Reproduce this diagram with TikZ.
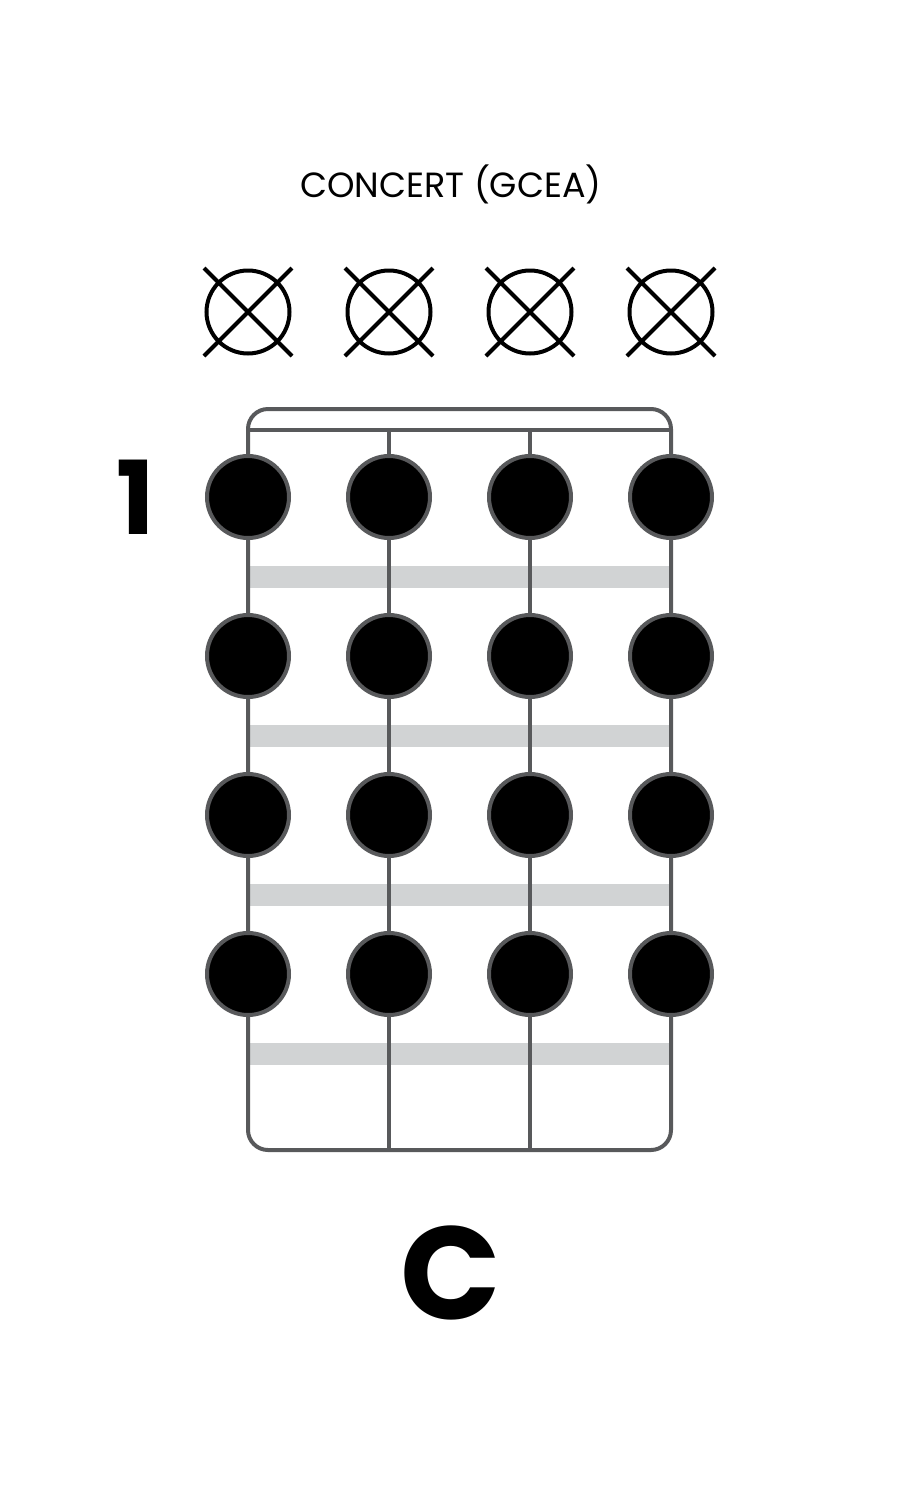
\documentclass[tikz,border=0pt]{standalone}
\usepackage{fontspec}
\setmainfont{Poppins}
\usetikzlibrary{positioning, shapes.misc}
\definecolor{linegray}{HTML}{58595B}
\definecolor{fretgray}{HTML}{D1D3D4}

\begin{document}
\begin{tikzpicture}[x=0.5pt, y=-0.5pt,
    fingerdot/.style={draw=linegray, circle, line width=2pt, fill=black, minimum size=41pt, inner sep=0pt},
    mutex/.style={draw, cross out, line width=2pt, minimum size=42pt, inner sep=0pt},
    mutering/.style={draw, line width=2pt},
    stringline/.style={draw=linegray, line width=2pt},
    fretband/.style={fill=fretgray}
]
\useasboundingbox (0,0) rectangle (900,1500);

% Tuning name
\node[font=\fontsize{17.5}{20}\selectfont, anchor=base] (tuning) at (451,197) {CONCERT (GCEA)};

% Muted strings
\node[mutex] (mg) at (248,312) {};
\node[mutex] (mc) at (389,312) {};
\node[mutex] (me) at (530,312) {};
\node[mutex] (ma) at (671,312) {};
\draw[mutering] (mg.center) circle[radius=20.75pt];
\draw[mutering] (mc.center) circle[radius=20.75pt];
\draw[mutering] (me.center) circle[radius=20.75pt];
\draw[mutering] (ma.center) circle[radius=20.75pt];

% Frets
\fill[fretband] (250,566) rectangle (670,588);
\fill[fretband] (250,725) rectangle (670,747);
\fill[fretband] (250,884) rectangle (670,906);
\fill[fretband] (250,1043) rectangle (670,1065);

% Neck outline, nut and strings
\draw[stringline, rounded corners=10pt] (248,409) rectangle (671,1150);
\coordinate (ng) at (248,430);
\coordinate (nc) at (389,430);
\coordinate (ne) at (530,430);
\coordinate (na) at (671,430);
\coordinate (bc) at (389,1150);
\coordinate (be) at (530,1150);
\draw[stringline] (ng) -- (na);
\draw[stringline] (nc) -- (bc);
\draw[stringline] (ne) -- (be);

% Finger dots, row by row
\node[fingerdot] (g1) at (248,497) {};
\node[fingerdot] (c1) at (389,497) {};
\node[fingerdot] (e1) at (530,497) {};
\node[fingerdot] (a1) at (671,497) {};
\node[fingerdot] (g2) at (248,656) {};
\node[fingerdot] (c2) at (389,656) {};
\node[fingerdot] (e2) at (530,656) {};
\node[fingerdot] (a2) at (671,656) {};
\node[fingerdot] (g3) at (248,815) {};
\node[fingerdot] (c3) at (389,815) {};
\node[fingerdot] (e3) at (530,815) {};
\node[fingerdot] (a3) at (671,815) {};
\node[fingerdot] (g4) at (248,974) {};
\node[fingerdot] (c4) at (389,974) {};
\node[fingerdot] (e4) at (530,974) {};
\node[fingerdot] (a4) at (671,974) {};

% Fret number and chord name
\node[font=\fontsize{51}{51}\selectfont\bfseries, left=21.5pt of g1] (fretnum) {1};
\node[font=\fontsize{66}{66}\selectfont\bfseries, anchor=base] (chord) at (451,1319) {C};
\end{tikzpicture}
\end{document}
